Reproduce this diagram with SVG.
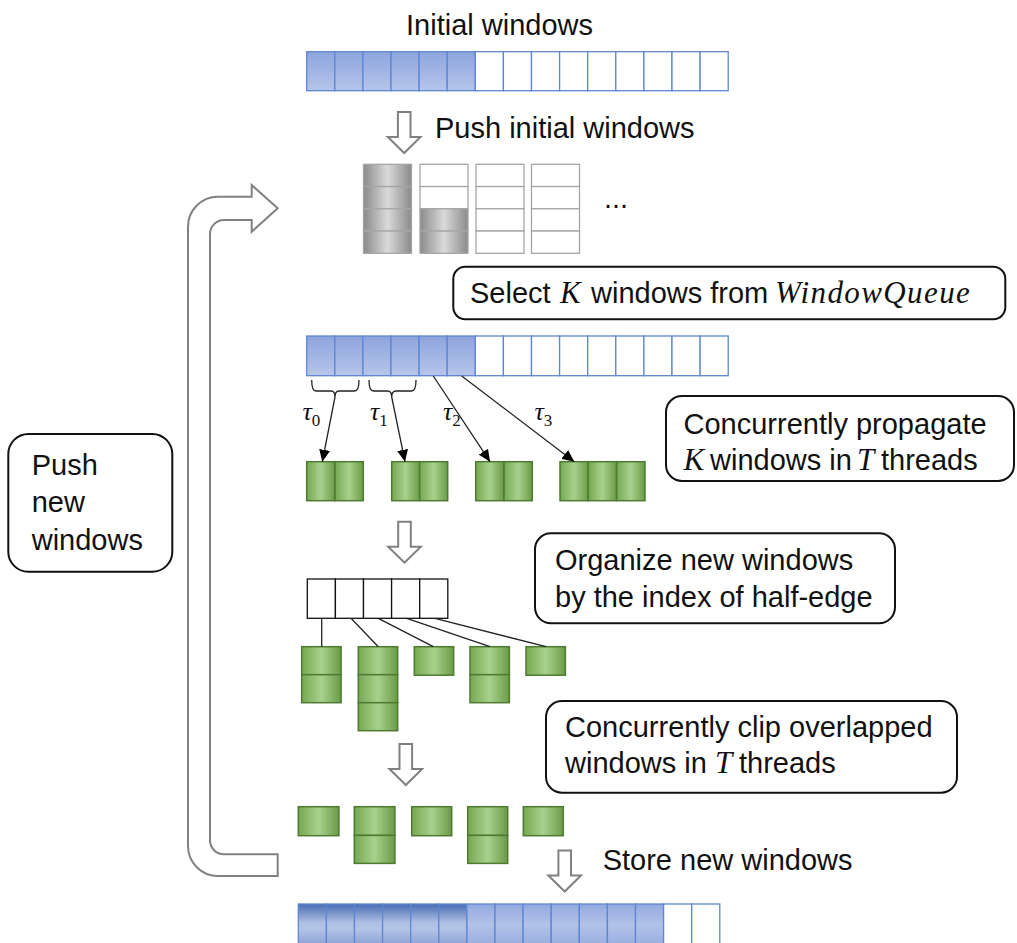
<svg xmlns="http://www.w3.org/2000/svg" width="1017" height="943" viewBox="0 0 1017 943">
<defs>
<linearGradient id="gBlue" x1="0" y1="0" x2="0" y2="1"><stop offset="0" stop-color="#8DA4DD"/><stop offset="1" stop-color="#B6C5EA"/></linearGradient>
<linearGradient id="gBlueDark" x1="0" y1="0" x2="0" y2="1"><stop offset="0" stop-color="#4A6DB5"/><stop offset="0.45" stop-color="#AFC0E5"/><stop offset="0.6" stop-color="#B3C3E7"/><stop offset="1" stop-color="#8A9FD3"/></linearGradient>
<linearGradient id="gBlueMed" x1="0" y1="0" x2="0" y2="1"><stop offset="0" stop-color="#94A9DE"/><stop offset="0.5" stop-color="#B2C2E8"/><stop offset="1" stop-color="#98ADE0"/></linearGradient>
<linearGradient id="gGreen" x1="0" y1="0" x2="1" y2="0"><stop offset="0" stop-color="#76A851"/><stop offset="0.5" stop-color="#A9D18E"/><stop offset="1" stop-color="#6A9B45"/></linearGradient>
<linearGradient id="gGray" x1="0" y1="0" x2="1" y2="0"><stop offset="0" stop-color="#8A8A8A"/><stop offset="0.5" stop-color="#DADADA"/><stop offset="1" stop-color="#8A8A8A"/></linearGradient>
<marker id="ah" markerUnits="userSpaceOnUse" markerWidth="13" markerHeight="11" refX="12" refY="5.5" orient="auto"><path d="M0,0 L12,5.5 L0,11 Z" fill="#000"/></marker>
<path id="downArrow" d="M-6.3,0 H6.3 V25 H16.3 L0,41 L-16.3,25 H-6.3 Z"/>
</defs>
<style>
.t{font-family:"Liberation Sans",Arial,sans-serif;font-size:29px;fill:#111}
.m{font-family:"Liberation Serif","Times New Roman",serif;font-style:italic;font-size:31px;fill:#111}
.tau{font-family:"Liberation Serif","Times New Roman",serif;font-style:italic;font-size:26px;fill:#111}
.sub{font-family:"Liberation Serif","Times New Roman",serif;font-style:normal;font-size:17px}
.bc{stroke:#5F86D2;stroke-width:1.3}
.bf{fill:url(#gBlue)}
.bd{fill:url(#gBlueDark)}
.bm{fill:url(#gBlueMed)}
.w{fill:#fff}
.gr{fill:url(#gGreen);stroke:#4E7A31;stroke-width:1.5}
.gy{stroke:#A6A6A6;stroke-width:1.3}
.gf{fill:url(#gGray)}
.box{fill:#fff;stroke:#111;stroke-width:2}
.ob{fill:#fff;stroke:#111;stroke-width:1.3}
.hollow{fill:#fff;stroke:#808080;stroke-width:2}
.ln{stroke:#222;stroke-width:1.3;fill:none}
</style>
<rect width="1017" height="943" fill="#fff"/>

<g id="initial-windows">
<text class="t" x="406" y="35">Initial windows</text>
<g class="bc">
<rect class="bf" x="306.7" y="51.7" width="28.1" height="39"/>
<rect class="bf" x="334.8" y="51.7" width="28.1" height="39"/>
<rect class="bf" x="362.9" y="51.7" width="28.1" height="39"/>
<rect class="bf" x="391.0" y="51.7" width="28.1" height="39"/>
<rect class="bf" x="419.1" y="51.7" width="28.1" height="39"/>
<rect class="bf" x="447.2" y="51.7" width="28.1" height="39"/>
<rect class="w" x="475.3" y="51.7" width="28.1" height="39"/>
<rect class="w" x="503.4" y="51.7" width="28.1" height="39"/>
<rect class="w" x="531.5" y="51.7" width="28.1" height="39"/>
<rect class="w" x="559.6" y="51.7" width="28.1" height="39"/>
<rect class="w" x="587.7" y="51.7" width="28.1" height="39"/>
<rect class="w" x="615.8" y="51.7" width="28.1" height="39"/>
<rect class="w" x="643.9" y="51.7" width="28.1" height="39"/>
<rect class="w" x="672.0" y="51.7" width="28.1" height="39"/>
<rect class="w" x="700.1" y="51.7" width="28.1" height="39"/>
</g>
</g>

<g id="push-initial-label">
<text class="t" x="435" y="138">Push initial windows</text>
</g>

<g id="window-queue">
<g class="gy">
<rect class="gf" x="363.5" y="164.3" width="48" height="22.25"/>
<rect class="gf" x="363.5" y="186.55" width="48" height="22.25"/>
<rect class="gf" x="363.5" y="208.8" width="48" height="22.25"/>
<rect class="gf" x="363.5" y="231.05" width="48" height="22.25"/>
<rect class="w" x="420" y="164.3" width="48" height="22.25"/>
<rect class="w" x="420" y="186.55" width="48" height="22.25"/>
<rect class="gf" x="420" y="208.8" width="48" height="22.25"/>
<rect class="gf" x="420" y="231.05" width="48" height="22.25"/>
<rect class="w" x="476" y="164.3" width="48" height="22.25"/>
<rect class="w" x="476" y="186.55" width="48" height="22.25"/>
<rect class="w" x="476" y="208.8" width="48" height="22.25"/>
<rect class="w" x="476" y="231.05" width="48" height="22.25"/>
<rect class="w" x="531.5" y="164.3" width="48" height="22.25"/>
<rect class="w" x="531.5" y="186.55" width="48" height="22.25"/>
<rect class="w" x="531.5" y="208.8" width="48" height="22.25"/>
<rect class="w" x="531.5" y="231.05" width="48" height="22.25"/>
</g>
<text class="t" x="604" y="208">...</text>
</g>

<g id="select-box">
<rect class="box" x="453.3" y="266.7" width="552" height="52.6" rx="12"/>
<text class="t" x="470" y="303.3">Select<tspan class="m" x="560">K</tspan><tspan x="591">windows from</tspan><tspan class="m" x="775" letter-spacing="1.4">WindowQueue</tspan></text>
</g>

<g id="selected-windows">
<g class="bc">
<rect class="bf" x="306.7" y="336" width="28.1" height="39.7"/>
<rect class="bf" x="334.8" y="336" width="28.1" height="39.7"/>
<rect class="bf" x="362.9" y="336" width="28.1" height="39.7"/>
<rect class="bf" x="391.0" y="336" width="28.1" height="39.7"/>
<rect class="bf" x="419.1" y="336" width="28.1" height="39.7"/>
<rect class="bf" x="447.2" y="336" width="28.1" height="39.7"/>
<rect class="w" x="475.3" y="336" width="28.1" height="39.7"/>
<rect class="w" x="503.4" y="336" width="28.1" height="39.7"/>
<rect class="w" x="531.5" y="336" width="28.1" height="39.7"/>
<rect class="w" x="559.6" y="336" width="28.1" height="39.7"/>
<rect class="w" x="587.7" y="336" width="28.1" height="39.7"/>
<rect class="w" x="615.8" y="336" width="28.1" height="39.7"/>
<rect class="w" x="643.9" y="336" width="28.1" height="39.7"/>
<rect class="w" x="672.0" y="336" width="28.1" height="39.7"/>
<rect class="w" x="700.1" y="336" width="28.1" height="39.7"/>
</g>
</g>

<g id="thread-labels">
<text class="tau" x="302.5" y="420">τ<tspan class="sub" dy="6">0</tspan></text>
<text class="tau" x="370" y="420">τ<tspan class="sub" dy="6">1</tspan></text>
<text class="tau" x="443" y="420">τ<tspan class="sub" dy="6">2</tspan></text>
<text class="tau" x="534.5" y="420">τ<tspan class="sub" dy="6">3</tspan></text>
</g>

<g id="propagated-windows">
<rect class="gr" x="306.7" y="461.7" width="28.3" height="39"/>
<rect class="gr" x="335" y="461.7" width="28.3" height="39"/>
<rect class="gr" x="391.7" y="461.7" width="28" height="39"/>
<rect class="gr" x="419.7" y="461.7" width="28" height="39"/>
<rect class="gr" x="475.7" y="461.7" width="28.3" height="39"/>
<rect class="gr" x="504" y="461.7" width="28.3" height="39"/>
<rect class="gr" x="560" y="461.7" width="28.3" height="39"/>
<rect class="gr" x="588.3" y="461.7" width="28.3" height="39"/>
<rect class="gr" x="616.6" y="461.7" width="28.4" height="39"/>
</g>

<g id="propagate-box">
<rect class="box" x="666" y="396" width="348" height="85" rx="16"/>
<text class="t" x="683.5" y="434">Concurrently propagate</text>
<text class="t" x="683.5" y="470"><tspan class="m">K</tspan><tspan x="710">windows in</tspan><tspan class="m" x="857">T</tspan><tspan x="881">threads</tspan></text>
</g>

<g id="organize-box">
<rect class="box" x="535" y="533.3" width="360" height="90" rx="16"/>
<text class="t" x="555" y="570">Organize new windows</text>
<text class="t" x="555" y="606.7">by the index of half-edge</text>
</g>

<g id="half-edge-index">
<rect class="ob" x="307.3" y="579" width="28.1" height="39.3"/>
<rect class="ob" x="335.4" y="579" width="28.1" height="39.3"/>
<rect class="ob" x="363.5" y="579" width="28.1" height="39.3"/>
<rect class="ob" x="391.6" y="579" width="28.1" height="39.3"/>
<rect class="ob" x="419.7" y="579" width="28.1" height="39.3"/>
</g>

<g id="organized-windows">
<rect class="gr" x="301.7" y="646.7" width="39.4" height="28"/>
<rect class="gr" x="301.7" y="674.7" width="39.4" height="28"/>
<rect class="gr" x="358.3" y="646.7" width="39.4" height="28"/>
<rect class="gr" x="358.3" y="674.7" width="39.4" height="28"/>
<rect class="gr" x="358.3" y="702.7" width="39.4" height="28"/>
<rect class="gr" x="414.3" y="646.7" width="39.4" height="28.5"/>
<rect class="gr" x="470" y="646.7" width="39.4" height="28"/>
<rect class="gr" x="470" y="674.7" width="39.4" height="28"/>
<rect class="gr" x="526" y="646.7" width="39.4" height="28.5"/>
</g>

<g id="clip-box">
<rect class="box" x="546" y="701" width="411" height="91.7" rx="16"/>
<text class="t" x="565" y="736.7">Concurrently clip overlapped</text>
<text class="t" x="565" y="773.3">windows in<tspan class="m" x="715">T</tspan><tspan x="739">threads</tspan></text>
</g>

<g id="clipped-windows">
<rect class="gr" x="298.3" y="806.7" width="40.6" height="29"/>
<rect class="gr" x="354.3" y="806.7" width="40.6" height="28.7"/>
<rect class="gr" x="354.3" y="835.4" width="40.6" height="28"/>
<rect class="gr" x="411.7" y="806.7" width="40" height="29"/>
<rect class="gr" x="467.7" y="806.7" width="40" height="28.7"/>
<rect class="gr" x="467.7" y="835.4" width="40" height="28"/>
<rect class="gr" x="523.3" y="806.7" width="40" height="29"/>
</g>

<g id="store-label">
<text class="t" x="602.7" y="870">Store new windows</text>
</g>

<g id="stored-windows">
<g class="bc">
<rect class="bd" x="298.3" y="904" width="28.1" height="42"/>
<rect class="bd" x="326.4" y="904" width="28.1" height="42"/>
<rect class="bd" x="354.5" y="904" width="28.1" height="42"/>
<rect class="bd" x="382.6" y="904" width="28.1" height="42"/>
<rect class="bd" x="410.7" y="904" width="28.1" height="42"/>
<rect class="bd" x="438.8" y="904" width="28.1" height="42"/>
<rect class="bm" x="466.9" y="904" width="28.1" height="42"/>
<rect class="bm" x="495.0" y="904" width="28.1" height="42"/>
<rect class="bm" x="523.1" y="904" width="28.1" height="42"/>
<rect class="bm" x="551.2" y="904" width="28.1" height="42"/>
<rect class="bm" x="579.3" y="904" width="28.1" height="42"/>
<rect class="bm" x="607.4" y="904" width="28.1" height="42"/>
<rect class="bm" x="635.5" y="904" width="28.1" height="42"/>
<rect class="w" x="663.6" y="904" width="28.1" height="42"/>
<rect class="w" x="691.7" y="904" width="28.1" height="42"/>
</g>
</g>

<g id="push-new-box">
<rect class="box" x="8.3" y="434" width="164" height="137.7" rx="20"/>
<text class="t" x="31.7" y="475">Push</text>
<text class="t" x="31.7" y="511.7">new</text>
<text class="t" x="31.7" y="550">windows</text>
</g>

<g id="connectors">
<use href="#downArrow" class="hollow" x="404.2" y="112"/>
<use href="#downArrow" class="hollow" x="404.5" y="521.7"/>
<use href="#downArrow" class="hollow" x="405.8" y="744"/>
<use href="#downArrow" class="hollow" x="564.7" y="850.5"/>
<path class="hollow" d="M277.7,854.3 H224 A14,14 0 0 1 210,840.3 V234 A14,14 0 0 1 224,220 H251.7 V231.7 L277.7,208.3 L251.7,185 V196.7 H218 A30,30 0 0 0 188,226.7 V846 A30,30 0 0 0 218,876 H277.7 Z"/>
<path class="ln" d="M311.7,380 Q311.7,391 316,391 H331 Q335,391 335,397 Q335,391 339,391 H354.5 Q359,391 359,380"/>
<path class="ln" d="M369,380 Q369,391 373.5,391 H387.5 Q391.7,391 391.7,397 Q391.7,391 396,391 H411.5 Q416,391 416,380"/>
<line class="ln" x1="335" y1="397" x2="322.3" y2="461.7" marker-end="url(#ah)"/>
<line class="ln" x1="391.7" y1="397" x2="405" y2="461.7" marker-end="url(#ah)"/>
<line class="ln" x1="433.3" y1="376" x2="490" y2="461.7" marker-end="url(#ah)"/>
<line class="ln" x1="461.7" y1="376" x2="574.3" y2="461.7" marker-end="url(#ah)"/>
<line class="ln" x1="321.7" y1="618.3" x2="321.7" y2="646.7"/>
<line class="ln" x1="351" y1="618.3" x2="378.3" y2="646.7"/>
<line class="ln" x1="378.3" y1="618.3" x2="433.3" y2="646.7"/>
<line class="ln" x1="406.7" y1="618.3" x2="490" y2="646.7"/>
<line class="ln" x1="435" y1="618.3" x2="546" y2="646.7"/>
</g>
</svg>
